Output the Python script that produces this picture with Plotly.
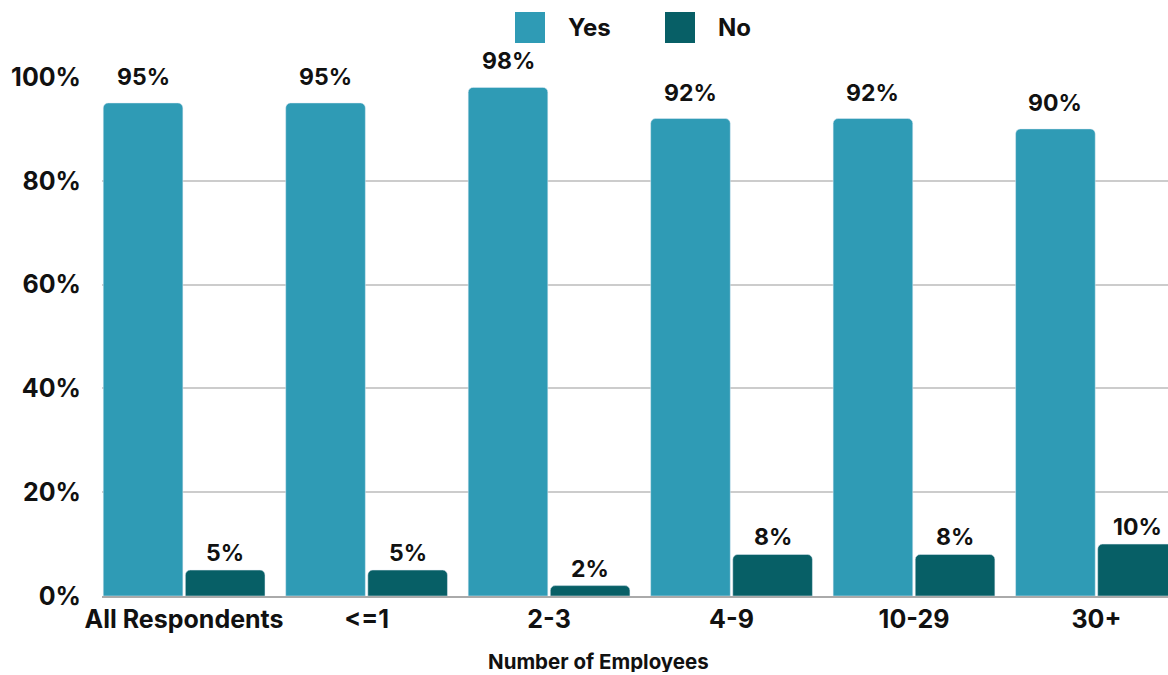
import plotly.graph_objects as go

# Survey results by company size
categories = ["All Respondents", "<=1", "2-3", "4-9", "10-29", "30+"]
yes_values = [95, 95, 98, 92, 92, 90]
no_values = [5, 5, 2, 8, 8, 10]
y_ticks = [0, 20, 40, 60, 80, 100]

YES_COLOR = "#2f9bb5"
NO_COLOR = "#075f66"
FONT = "Inter"
INK = "#111111"

W, H = 1168, 675
M_L, M_R, M_T, M_B = 102, 0, 77, 79
PW, PH = W - M_L - M_R, H - M_T - M_B


def px_x(px):
    return (px - M_L) / PW


def px_y(py):
    return (H - M_B - py) / PH


x_idx = list(range(len(categories)))
fig = go.Figure()
fig.add_trace(go.Bar(x=x_idx, y=yes_values, name="Yes", marker_color=YES_COLOR,
                     showlegend=False))
fig.add_trace(go.Bar(x=x_idx, y=no_values, name="No", marker_color=NO_COLOR,
                     showlegend=False))

bargap = 0.1
slot = (1 - bargap) / 2
label_font = dict(family=FONT, size=23, color=INK, weight="bold")
annotations = []
for i, (yv, nv) in enumerate(zip(yes_values, no_values)):
    annotations.append(dict(x=i - slot / 2, y=yv, xref="x", yref="y", text=f"{yv}%",
                            showarrow=False, yanchor="bottom", yshift=10, font=label_font))
    annotations.append(dict(x=i + slot / 2, y=nv, xref="x", yref="y", text=f"{nv}%",
                            showarrow=False, yanchor="bottom", yshift=1, font=label_font))

# legend swatches and labels
legend_items = [("Yes", YES_COLOR, 515), ("No", NO_COLOR, 665)]
shapes = []
for label, color, px in legend_items:
    shapes.append(dict(type="rect", xref="paper", yref="paper",
                       x0=px_x(px), x1=px_x(px + 30), y0=px_y(43), y1=px_y(12),
                       fillcolor=color, line=dict(width=0)))
    annotations.append(dict(x=px_x(px + 51), y=px_y(27), xref="paper", yref="paper",
                            text=label, showarrow=False, xanchor="left", yanchor="middle",
                            font=dict(family=FONT, size=24, color=INK, weight="bold")))

# axis title
annotations.append(dict(x=px_x(598), y=px_y(661), xref="paper", yref="paper",
                        text="Number of Employees", showarrow=False,
                        xanchor="center", yanchor="middle", height=22,
                        font=dict(family=FONT, size=20.5, color=INK, weight="bold")))

fig.update_layout(
    width=W, height=H,
    margin=dict(l=M_L, r=M_R, t=M_T, b=M_B),
    plot_bgcolor="white", paper_bgcolor="white",
    barmode="group", bargap=bargap, bargroupgap=0.03, barcornerradius=5,
    annotations=annotations, shapes=shapes,
    font=dict(family=FONT, color=INK),
)
fig.update_xaxes(
    range=[-0.45, 5.392], tickvals=x_idx, ticktext=categories,
    tickfont=dict(family=FONT, size=25, color=INK, weight="bold"),
    showgrid=False, ticks="", showline=True, linecolor="#aaaaaa", linewidth=2,
)
fig.update_yaxes(
    range=[0, 100], tickvals=y_ticks, ticktext=[f"{t}%" for t in y_ticks],
    tickfont=dict(family=FONT, size=25, color=INK, weight="bold"),
    showgrid=True, gridcolor="#cccccc", gridwidth=2, zeroline=False,
    ticklabelstandoff=20,
)

fig.write_html("out.html")
